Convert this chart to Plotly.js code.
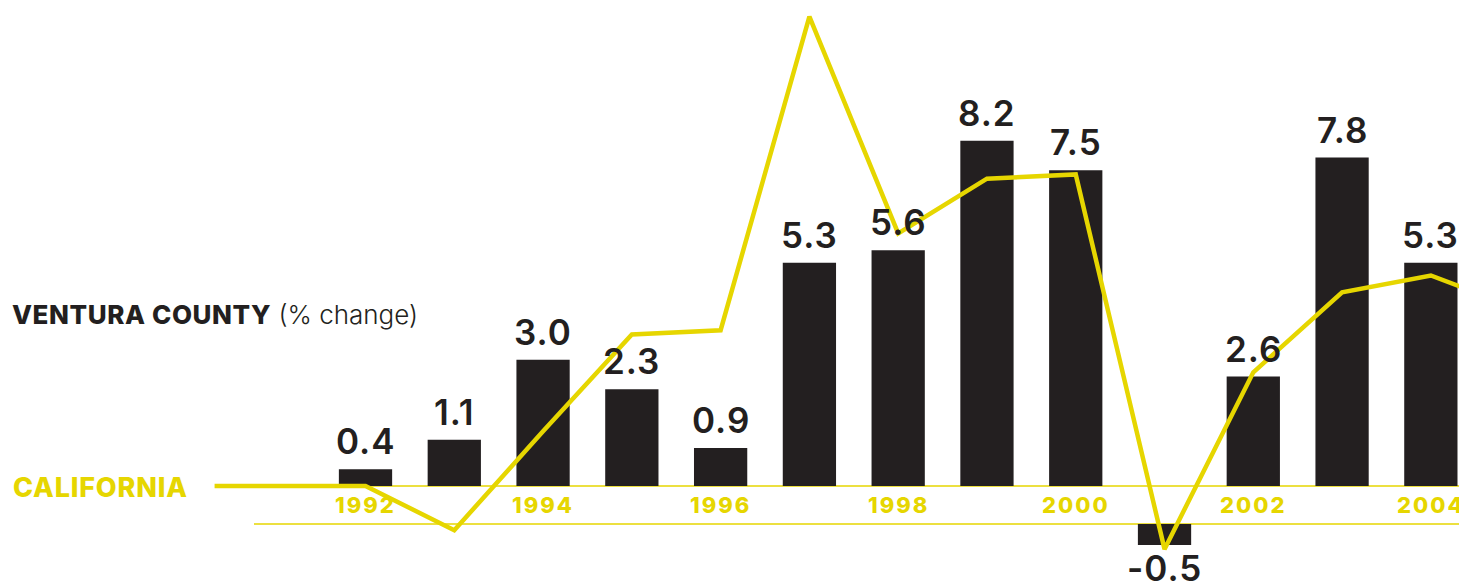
<!DOCTYPE html>
<html>
<head>
<meta charset="utf-8">
<script src="https://cdn.plot.ly/plotly-3.0.1.min.js"></script>
<style>
  html, body { margin: 0; padding: 0; background: #ffffff; }
  #chart { width: 1459px; height: 588px; }
</style>
</head>
<body>
<div id="chart"></div>
<script>
// ---- data ----
const years = [1992, 1993, 1994, 1995, 1996, 1997, 1998, 1999, 2000, 2001, 2002, 2003, 2004];
const venturaValues = [0.4, 1.1, 3.0, 2.3, 0.9, 5.3, 5.6, 8.2, 7.5, -0.5, 2.6, 7.8, 5.3];
const californiaYears = [1990.3, 1992, 1993, 1994, 1995, 1996, 1997, 1998, 1999, 2000, 2001, 2002, 2003, 2004, 2005];
const californiaValues = [0, 0, -1.05, 1.3, 3.6, 3.7, 11.15, 6.0, 7.3, 7.4, -1.5, 2.7, 4.6, 5.0, 4.2];
const yearTickLabels = ["1992", "1994", "1996", "1998", "2000", "2002", "2004"];
const yearTickValues = [1992, 1994, 1996, 1998, 2000, 2002, 2004];

// ---- style ----
const YELLOW = "#E6D600";
const DARK = "#231F20";
const FONT = "Inter, 'Open Sans', sans-serif";
const labelBand = 0.9; // gap (in value units) left for the year labels below zero

const bases = venturaValues.map(v => (v < 0 ? -labelBand : 0));

const bars = {
  type: "bar",
  x: years,
  y: venturaValues,
  base: bases,
  width: 0.6,
  marker: { color: DARK, line: { width: 0 } },
  hoverinfo: "skip",
  showlegend: false
};

const line = {
  type: "scatter",
  mode: "lines",
  x: californiaYears,
  y: californiaValues,
  line: { color: YELLOW, width: 4.5 },
  hoverinfo: "skip",
  showlegend: false,
  cliponaxis: true
};

const annotations = [];
venturaValues.forEach((v, i) => {
  const neg = v < 0;
  annotations.push({
    x: years[i],
    y: neg ? bases[i] + v : v,
    xref: "x", yref: "y",
    text: "<span style='letter-spacing:1px'>" + v.toFixed(1) + "</span>",
    showarrow: false,
    xanchor: "center",
    yanchor: neg ? "top" : "bottom",
    yshift: neg ? 0 : 5,
    font: { family: FONT, size: 35, color: DARK, weight: 600 }
  });
});
yearTickValues.forEach((yr, i) => {
  annotations.push({
    x: yr, y: -labelBand / 2,
    xref: "x", yref: "y",
    text: "<span style='letter-spacing:2px'>" + yearTickLabels[i] + "</span>",
    showarrow: false,
    xanchor: "center", yanchor: "middle",
    font: { family: FONT, size: 22, color: YELLOW, weight: 800 }
  });
});
annotations.push({
  x: 10 / 1459, y: 1 - 314 / 588, xref: "paper", yref: "paper",
  xanchor: "left", yanchor: "middle", showarrow: false,
  text: "<span style='font-weight:800;letter-spacing:0.6px'>VENTURA COUNTY</span> <span style='font-weight:300'>(% change)</span>",
  font: { family: FONT, size: 26, color: DARK }
});
annotations.push({
  x: 11 / 1459, y: 1 - 487 / 588, xref: "paper", yref: "paper",
  xanchor: "left", yanchor: "middle", showarrow: false,
  text: "<span style='letter-spacing:0.8px'>CALIFORNIA</span>",
  font: { family: FONT, size: 27, color: YELLOW, weight: 800 }
});

const shapes = [0, -labelBand].map(yv => ({
  type: "line", xref: "paper", yref: "y",
  x0: 254 / 1459, x1: 1, y0: yv, y1: yv,
  line: { color: YELLOW, width: 1.5 },
  layer: "below"
}));

const layout = {
  width: 1459, height: 588,
  margin: { l: 0, r: 0, t: 0, b: 0, pad: 0 },
  paper_bgcolor: "#ffffff",
  plot_bgcolor: "#ffffff",
  xaxis: { range: [1987.883, 2004.317], visible: false, fixedrange: true },
  yaxis: { range: [-2.423, 11.544], visible: false, fixedrange: true },
  bargap: 0.4,
  annotations: annotations,
  shapes: shapes
};

Plotly.newPlot("chart", [bars, line], layout, { displayModeBar: false, staticPlot: true });
</script>
</body>
</html>
